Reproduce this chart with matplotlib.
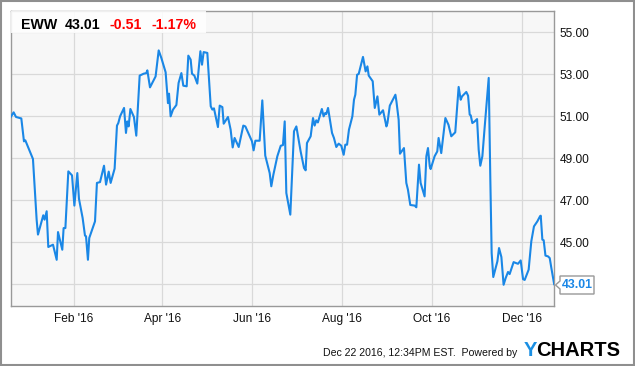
import numpy as np
import pandas as pd
import matplotlib
matplotlib.use('Agg')
import matplotlib.pyplot as plt
import matplotlib.dates as mdates
from matplotlib.patches import Rectangle, Polygon

plt.rcParams['font.family'] = ['Liberation Sans', 'DejaVu Sans']

# days counted from the left edge of the chart, and the closing price
day_offset = [0, 2.0, 3.6, 7.2, 9.0, 9.9, 15.1, 17.6, 18.5, 22.1, 23.0, 24.4, 25.5, 28.7, 31.2, 32.1, 35.0, 35.9, 37.1, 39.1,
              41.6, 43.2, 45.2, 46.3, 48.8, 50.4, 51.1, 52.4, 53.3, 57.2, 58.5, 60.6, 63.3, 64.7, 66.5, 67.8, 70.5, 72.1, 73.0, 74.2,
              76.9, 78.2, 79.1, 80.0, 81.2, 83.6, 85.2, 87.5, 90.2, 92.0, 92.7, 94.5, 98.3, 100.4, 102.2, 105.1, 106.7, 107.4, 108.5, 110.1,
              112.4, 113.9, 115.8, 117.1, 119.4, 120.5, 122.1, 123.0, 124.6, 126.6, 128.7, 129.8, 130.9, 133.4, 135.7, 136.8, 137.9, 140.6, 141.8, 143.6,
              144.5, 147.4,
              149.2, 150.6, 151.9, 154.7, 157.8, 159.2, 163.7, 164.8, 166.0, 168.9, 170.7, 172.7, 175.7, 176.8, 178.2, 180.9, 183.2, 184.7, 185.9, 187.0,
              189.7, 192.2, 193.8, 196.7, 199.0, 200.1, 201.0, 203.5, 205.1, 206.2, 207.3, 208.4, 211.1, 212.3, 213.4, 214.1, 215.3, 218.0, 219.3, 220.9,
              222.5,
              224.3, 225.9, 227.0, 228.2, 229.5, 231.8, 232.9, 233.8, 235.0, 236.1, 239.0, 240.8, 242.0, 242.9, 245.6, 247.0, 248.8, 250.1, 252.6, 254.9,
              255.6, 257.2, 261.0, 261.7, 263.2, 264.1, 266.8, 268.4, 269.5, 271.1, 274.1, 275.2, 277.0, 278.1, 280.8, 282.0, 283.1, 284.3, 284.9, 287.6,
              289.4, 290.3, 292.1, 294.9, 297.0,
              298.9, 301.6, 303.9, 305.3, 306.2, 309.1, 310.3, 311.4, 312.1, 313.2, 314.8, 316.4, 317.5, 318.6, 320.0, 321.6, 324.3, 325.4, 326.3, 327.4,
              330.2, 331.3, 332.9, 334.4, 335.8, 337.4, 338.5, 341.2, 342.6, 344.2, 346.0, 347.6, 348.7, 351.4, 353.2, 355.0, 357.3, 359.1, 359.6, 360.7,
              361.6, 362.8, 364.6, 365.7, 366.8, 368.7]
price = [50.97, 51.19, 50.97, 50.9, 49.81, 49.86, 48.97, 46.08, 45.37, 46.29, 46.08, 46.48, 44.78, 44.89, 44.17, 45.49, 44.65, 45.68, 45.68, 48.38,
         48.19, 46.75, 48.30, 47.08, 46.16, 45.32, 45.29, 44.17, 45.21, 46.0, 47.83, 47.87, 48.65, 47.75, 48.37, 47.83, 48.51, 50.56, 50.68, 51.0,
         51.40, 50.21, 50.76, 50.52, 51.35, 50.97, 50.08, 52.94, 53.03, 53.06, 53.19, 52.38, 52.90, 54.14, 53.78, 53.10, 51.63, 52.08, 51.0, 51.32,
         51.54, 52.59, 53.06, 52.46, 52.43, 53.89, 53.70, 53.03, 52.94, 52.56, 54.10, 53.46, 54.06, 54.02, 51.48, 51.32, 51.38, 50.49, 51.51, 51.44,
         50.65, 50.97,
         50.37, 49.52, 49.97, 49.54, 50.56, 50.52, 49.81, 49.38, 49.84, 49.84, 51.76, 49.13, 48.30, 47.67, 48.22, 49.10, 49.60, 49.63, 50.76, 47.35,
         46.32, 50.29, 50.52, 49.33, 48.54, 48.43, 49.73, 50.05, 50.92, 50.56, 50.81, 50.71, 51.35, 51.0, 51.16, 51.11, 51.40, 50.21, 49.97, 49.54,
         49.70,
         49.60, 49.17, 49.65, 49.65, 50.37, 51.0, 51.79, 52.03, 52.98, 53.02, 53.83, 53.14, 53.38, 52.94, 52.67, 51.40, 51.95, 51.08, 51.29, 50.52,
         50.68, 51.51, 52.03, 51.71, 50.84, 49.22, 49.49, 47.83, 47.51, 46.78, 46.75, 46.67, 48.70, 47.83, 47.19, 49.10, 49.49, 48.62, 48.49, 49.10,
         49.33, 49.97, 49.25, 50.92, 50.6,
         50.05, 50.24, 52.40, 51.79, 51.95, 52.16, 51.98, 51.08, 51.05, 50.68, 50.76, 50.87, 49.41, 48.65, 49.10, 50.52, 52.83, 47.98, 44.49, 43.35,
         44.10, 44.73, 44.30, 42.98, 43.30, 43.59, 43.49, 44.06, 44.02, 43.98, 44.14, 43.25, 43.21, 43.70, 45.05, 45.76, 46.0, 46.24, 46.27, 45.13,
         45.10, 44.37, 44.33, 44.25, 43.78, 43.01]

ticker = 'EWW'
last_price = '43.01'
change = '-0.51'
change_pct = '-1.17%'
y_ticks = [43, 45, 47, 49, 51, 53, 55]
y_labels = ['', '45.00', '47.00', '49.00', '51.00', '53.00', '55.00']  # 43 is covered by the last price tag
x_ticks = ['2016-02-01', '2016-04-01', '2016-06-01', '2016-08-01', '2016-10-01', '2016-12-01']
x_labels = ["Feb '16", "Apr '16", "Jun '16", "Aug '16", "Oct '16", "Dec '16"]
footer = 'Dec 22 2016, 12:34PM EST.  Powered by'

W, H = 635, 366
blue = '#1a87e6'

start = pd.Timestamp('2015-12-20 04:30')
dates = start + pd.to_timedelta(day_offset, unit='D')

fig = plt.figure(figsize=(W / 100, H / 100), dpi=100)
fig.patch.set_facecolor('white')

def fx(x):
    return x / W

def fy(y):
    return 1 - y / H

ax = fig.add_axes([fx(10.7), fy(306), fx(554.3) - fx(10.7), fy(10.7) - fy(306)])
ax.set_facecolor('#f7f7f7')
ax.plot(dates, price, color=blue, lw=1.5, zorder=3)

ax.set_xlim(start, start + pd.Timedelta(days=368.8))
ax.set_ylim(41.97, 56.03)
ax.set_yticks(y_ticks)
ax.set_yticklabels(y_labels)
ax.yaxis.tick_right()
ax.set_xticks(pd.to_datetime(x_ticks))
ax.set_xticklabels(x_labels)
ax.tick_params(axis='both', length=0, labelsize=8.6, colors='#111111')
ax.tick_params(axis='y', pad=4)
ax.tick_params(axis='x', pad=5)
ax.grid(True, color='#d9d9d9', lw=0.9, zorder=0)
for s in ax.spines.values():
    s.set_color('#999999')
    s.set_linewidth(1)

# title box
ax.add_patch(Rectangle((0, 1 - (33 - 10.7) / 295.3), (206 - 10.7) / 543.6, (33 - 10.7) / 295.3,
                       transform=ax.transAxes, facecolor='white', alpha=0.85, edgecolor='none', zorder=4))
fig.text(fx(21), fy(24.7), ticker, fontsize=10.2, fontweight='bold', va='center', ha='left', color='black', zorder=5)
fig.text(fx(65), fy(24.7), last_price, fontsize=10.2, fontweight='bold', va='center', ha='left', color='black', zorder=5)
fig.text(fx(109.5), fy(24.7), change, fontsize=10.2, fontweight='bold', va='center', ha='left', color='#ff0000', zorder=5)
fig.text(fx(151), fy(24.7), change_pct, fontsize=10.2, fontweight='bold', va='center', ha='left', color='#ff0000', zorder=5)

# last value tag
tag = [(560, 276), (594, 276), (594, 294), (560, 294), (560, 289), (555.5, 285), (560, 281)]
fig.patches.append(Polygon([(fx(a), fy(b)) for a, b in tag], closed=True, transform=fig.transFigure,
                           facecolor='white', edgecolor='#999999', lw=1))
fig.text(fx(577), fy(285), last_price, fontsize=8.8, fontweight='bold', color=blue, ha='center', va='center')

# footer
fig.text(fx(323), fy(352.7), footer, fontsize=7.6, ha='left', va='center', color='#111111')
fig.text(fx(523.5), fy(350.5), 'Y', fontsize=14.5, fontweight='heavy', ha='left', va='center', color='#1a8fe3')
fig.text(fx(536), fy(350.5), 'CHARTS', fontsize=14.5, fontweight='heavy', ha='left', va='center', color='black')

# outer border
fig.patches.append(Rectangle((fx(1), fy(365)), fx(633), 1 - 2 / H, transform=fig.transFigure,
                             facecolor='none', edgecolor='#8f8f8f', lw=1.5))

fig.savefig('out.png', dpi=100)
